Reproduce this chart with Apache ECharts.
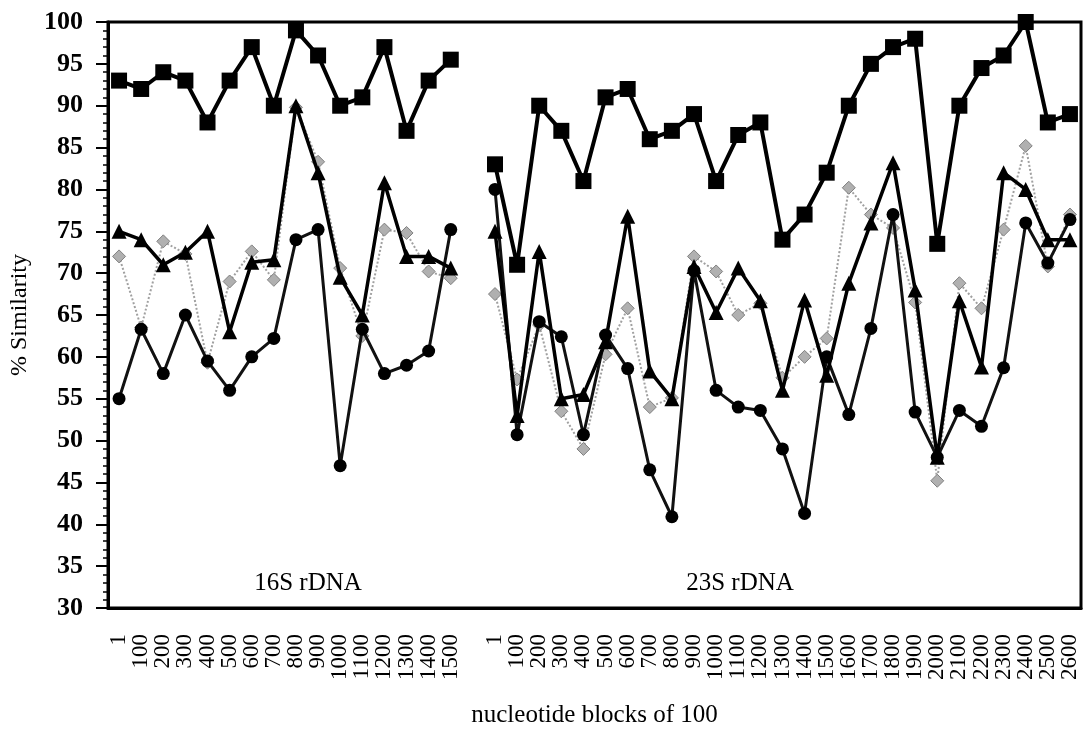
<!DOCTYPE html>
<html>
<head>
<meta charset="utf-8">
<script src="https://cdn.jsdelivr.net/npm/echarts@6/dist/echarts.min.js"></script>
<style>
  html, body { margin: 0; padding: 0; background: #fff; }
  #main { width: 1088px; height: 733px; }
</style>
</head>
<body>
<div id="main"></div>
<script>
// tick labels for the two genes
var nhan16S = ['1', '100', '200', '300', '400', '500', '600', '700', '800', '900',
  '1000', '1100', '1200', '1300', '1400', '1500'];
var nhan23S = ['1', '100', '200', '300', '400', '500', '600', '700', '800', '900',
  '1000', '1100', '1200', '1300', '1400', '1500', '1600', '1700', '1800', '1900',
  '2000', '2100', '2200', '2300', '2400', '2500', '2600'];

// % similarity, 16S rDNA
var vuong16S = [93, 92, 94, 93, 88, 93, 97, 90, 99, 96, 90, 91, 97, 87, 93, 95.5];
var tamGiac16S = [75, 74, 71, 72.5, 75, 63, 71.3, 71.6, 90, 82, 69.5, 65, 80.8, 72, 72, 70.6];
var tron16S = [55, 63.3, 58, 65, 59.5, 56, 60, 62.2, 74, 75.2, 47, 63.3, 58, 59, 60.7, 75.2];
var xam16S = [72, 63.5, 73.8, 72.3, 59.3, 69, 72.6, 69.2, 89.8, 83.3, 70.6, 62.5, 75.2, 74.8, 70.2, 69.4];

// % similarity, 23S rDNA
var vuong23S = [83, 71, 90, 87, 81, 91, 92, 86, 87, 89, 81, 86.5, 88, 74, 77, 82,
  90, 95, 97, 98, 73.5, 90, 94.5, 96, 100, 88, 89];
var tamGiac23S = [75, 53, 72.6, 55, 55.5, 61.8, 76.8, 58.3, 55, 70.8, 65.3, 70.6, 66.7, 56, 66.8, 57.8,
  68.8, 76, 83.2, 68, 48, 66.7, 58.8, 82, 80, 74, 74];
var tron23S = [80, 50.7, 64.2, 62.4, 50.7, 62.6, 58.6, 46.5, 40.9, 70.3, 56, 54, 53.6, 49, 41.3, 60,
  53.1, 63.4, 77, 53.4, 48, 53.6, 51.7, 58.7, 76, 71.2, 76.4];
var xam23S = [67.5, 57.3, 63.8, 53.5, 49, 60.3, 65.8, 54, 55.1, 72, 70.2, 65, 66.4, 57.5, 60, 62.2,
  80.2, 77, 75.4, 66.5, 45.2, 68.8, 65.8, 75.2, 85.2, 70.8, 77];

var danhMuc = nhan16S.concat(['']).concat(nhan23S);
function ghep(a, b) { return a.concat([null]).concat(b); }

var phongChu = 'Liberation Serif';

var option = {
  animation: false,
  backgroundColor: '#fff',
  grid: {
    left: 107, right: 7, top: 22, bottom: 121,
    show: true, borderColor: '#000', borderWidth: 3, backgroundColor: 'transparent'
  },
  xAxis: {
    type: 'category',
    data: danhMuc,
    boundaryGap: true,
    name: 'nucleotide blocks of 100',
    nameLocation: 'middle',
    nameGap: 95,
    nameTextStyle: { fontFamily: phongChu, fontSize: 25, color: '#000' },
    axisLine: { lineStyle: { color: '#000', width: 3 } },
    axisTick: { interval: 0, length: 12, lineStyle: { color: '#000', width: 2 } },
    axisLabel: {
      interval: 0, rotate: 90, margin: 26,
      fontFamily: phongChu, fontSize: 23, color: '#000'
    },
    splitLine: { show: false }
  },
  yAxis: {
    type: 'value',
    min: 30, max: 100, interval: 5,
    name: '% Similarity',
    nameLocation: 'middle',
    nameGap: 76,
    nameTextStyle: { fontFamily: phongChu, fontSize: 24, color: '#000' },
    axisLine: { show: true, lineStyle: { color: '#000', width: 3 } },
    axisTick: { show: true, length: 12, lineStyle: { color: '#000', width: 2 } },
    minorTick: { show: true, splitNumber: 5, length: 5, lineStyle: { color: '#000', width: 1.5 } },
    axisLabel: { margin: 25, fontFamily: phongChu, fontSize: 26, fontWeight: 'bold', color: '#000' },
    splitLine: { show: false }
  },
  graphic: [
    { type: 'text', x: 308, y: 583, style: { text: '16S rDNA', font: '25px "Liberation Serif"', fill: '#000', align: 'center', verticalAlign: 'middle' } },
    { type: 'text', x: 740, y: 583, style: { text: '23S rDNA', font: '25px "Liberation Serif"', fill: '#000', align: 'center', verticalAlign: 'middle' } }
  ],
  series: [
    {
      type: 'line', z: 2,
      data: ghep(xam16S, xam23S),
      symbol: 'diamond', symbolSize: 13,
      itemStyle: { color: '#b0b0b0', borderColor: '#808080', borderWidth: 1 },
      lineStyle: { color: '#a0a0a0', width: 2, type: 'dotted' }
    },
    {
      type: 'line', z: 3,
      data: ghep(tron16S, tron23S),
      symbol: 'circle', symbolSize: 13,
      itemStyle: { color: '#000' },
      lineStyle: { color: '#111', width: 3 }
    },
    {
      type: 'line', z: 4,
      data: ghep(tamGiac16S, tamGiac23S),
      symbol: 'triangle', symbolSize: 15,
      itemStyle: { color: '#000' },
      lineStyle: { color: '#000', width: 3.5 }
    },
    {
      type: 'line', z: 5,
      data: ghep(vuong16S, vuong23S),
      symbol: 'rect', symbolSize: 16,
      itemStyle: { color: '#000' },
      lineStyle: { color: '#000', width: 4 }
    }
  ]
};

var chartDom = document.getElementById('main');
var myChart = echarts.init(chartDom);
option && myChart.setOption(option);
</script>
</body>
</html>
